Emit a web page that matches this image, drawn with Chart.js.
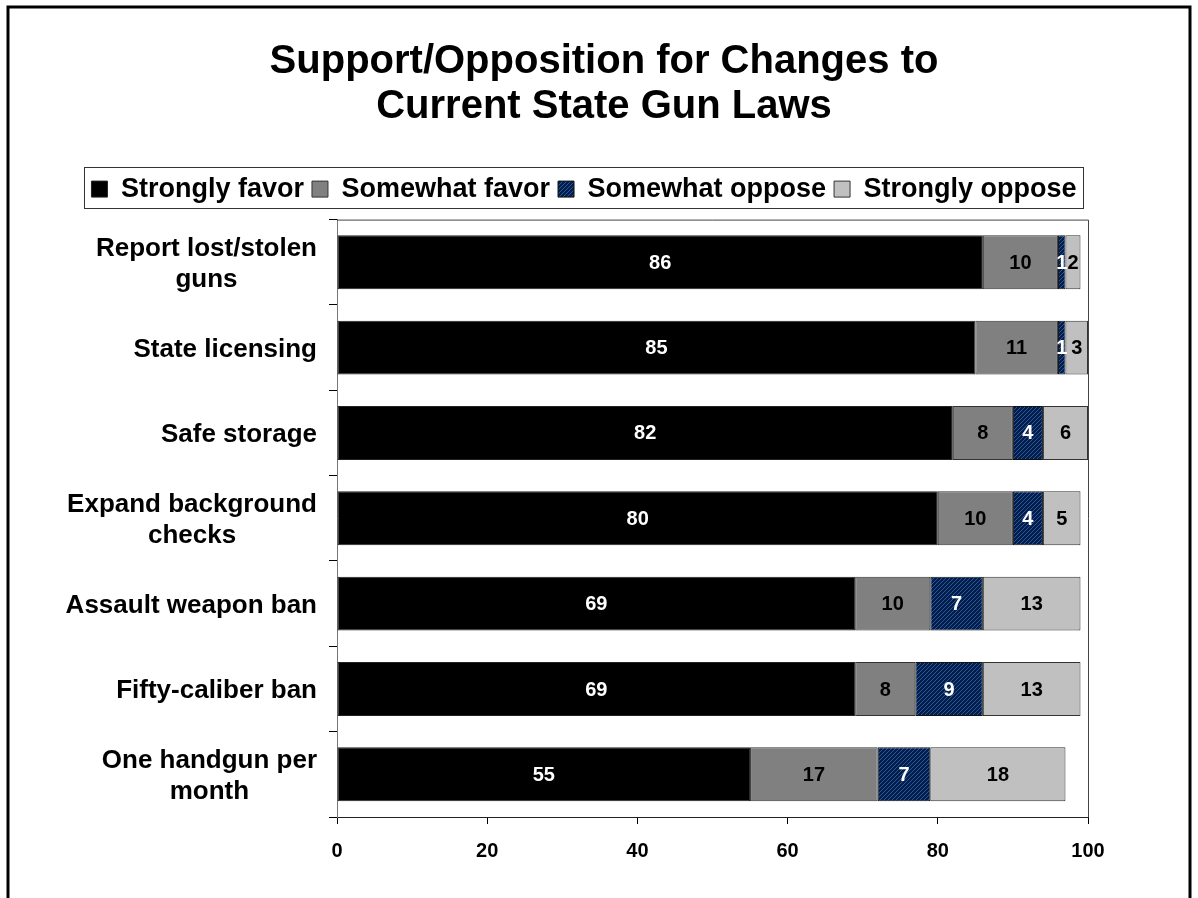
<!DOCTYPE html>
<html>
<head>
<meta charset="utf-8">
<script src="https://cdn.jsdelivr.net/npm/chart.js@4.4.0/dist/chart.umd.min.js"></script>
<style>
  html, body { margin: 0; padding: 0; background: #fff; }
  #wrap { width: 1198px; height: 898px; position: relative; }
</style>
</head>
<body>
<div id="wrap"><canvas id="chart"></canvas></div>
<script>
// data
const categories = [
  ['Report lost/stolen', 'guns'],
  'State licensing',
  'Safe storage',
  ['Expand background', 'checks'],
  'Assault weapon ban',
  'Fifty-caliber ban',
  ['One handgun per', 'month']
];
const stronglyFavor  = [86, 85, 82, 80, 69, 69, 55];
const somewhatFavor  = [10, 11, 8, 10, 10, 8, 17];
const somewhatOppose = [1, 1, 4, 4, 7, 9, 7];
const stronglyOppose = [2, 3, 6, 5, 13, 13, 18];
const xTicks = [0, 20, 40, 60, 80, 100];

const FONT = "'Liberation Sans', Arial, Helvetica, sans-serif";
Chart.defaults.font.family = FONT;
Chart.defaults.color = '#000';

// navy with fine diagonal hatch
function hatch() {
  const c = document.createElement('canvas');
  c.width = 4; c.height = 4;
  const g = c.getContext('2d');
  g.fillStyle = '#001f4e';
  g.fillRect(0, 0, 4, 4);
  g.strokeStyle = '#2f5490';
  g.lineWidth = 1;
  g.beginPath();
  g.moveTo(0, 4); g.lineTo(4, 0);
  g.moveTo(-1, 1); g.lineTo(1, -1);
  g.moveTo(3, 5); g.lineTo(5, 3);
  g.stroke();
  return g.createPattern(c, 'repeat');
}

const labelColors = ['#fff', '#000', '#fff', '#000'];

const decor = {
  id: 'decor',
  afterLayout(chart) {
    // legend sits a little left of the page centre
    chart.legend.left -= 20;
    chart.legend.right -= 20;
  },
  beforeDraw(chart) {
    const ctx = chart.ctx;
    ctx.save();
    ctx.strokeStyle = '#000';
    ctx.lineWidth = 3;
    ctx.beginPath();
    ctx.moveTo(8, chart.height);
    ctx.lineTo(8, 7);
    ctx.lineTo(1190, 7);
    ctx.lineTo(1190, chart.height);
    ctx.stroke();
    ctx.restore();
  },
  afterDatasetsDraw(chart) {
    const ctx = chart.ctx;
    ctx.save();
    ctx.font = 'bold 20px ' + FONT;
    ctx.textAlign = 'center';
    ctx.textBaseline = 'middle';
    chart.data.datasets.forEach((ds, i) => {
      chart.getDatasetMeta(i).data.forEach((bar, j) => {
        ctx.fillStyle = labelColors[i];
        ctx.fillText(String(ds.data[j]), (bar.x + bar.base) / 2, bar.y + 1);
      });
    });
    ctx.restore();
  },
  afterDraw(chart) {
    const ctx = chart.ctx;
    const a = chart.chartArea;
    ctx.save();
    // plot area frame (top and right)
    ctx.strokeStyle = '#444';
    ctx.lineWidth = 1;
    ctx.beginPath();
    ctx.moveTo(a.left, a.top + 0.5);
    ctx.lineTo(a.right + 0.5, a.top + 0.5);
    ctx.lineTo(a.right + 0.5, a.bottom);
    ctx.stroke();

    // legend frame
    const hb = chart.legend.legendHitBoxes;
    if (hb && hb.length) {
      const l = Math.min(...hb.map(h => h.left)) - 7;
      const r = Math.max(...hb.map(h => h.left + h.width)) + 7;
      const t = hb[0].top - 9;
      const b = hb[0].top + hb[0].height + 5;
      ctx.strokeStyle = '#333';
      ctx.strokeRect(Math.round(l) + 0.5, Math.round(t) + 0.5, Math.round(r - l), Math.round(b - t));
    }

    // category labels: block right aligned, lines centred
    const ys = chart.scales.y;
    ctx.font = 'bold 26px ' + FONT;
    ctx.fillStyle = '#000';
    ctx.textAlign = 'center';
    ctx.textBaseline = 'middle';
    const lineH = 31;
    categories.forEach((lab, i) => {
      const lines = Array.isArray(lab) ? lab : [lab];
      const w = Math.max(...lines.map(s => ctx.measureText(s).width));
      const cx = 317 - w / 2;
      const cy = ys.getPixelForValue(i) + 2;
      lines.forEach((s, k) => {
        ctx.fillText(s, cx, cy + (k - (lines.length - 1) / 2) * lineH);
      });
    });
    ctx.restore();
  }
};

const ctx = document.getElementById('chart').getContext('2d');
new Chart(ctx, {
  type: 'bar',
  data: {
    labels: categories,
    datasets: [
      { label: 'Strongly favor', data: stronglyFavor, backgroundColor: '#000', borderColor: '#222' },
      { label: 'Somewhat favor', data: somewhatFavor, backgroundColor: '#808080', borderColor: '#333' },
      { label: 'Somewhat oppose', data: somewhatOppose, backgroundColor: hatch(), borderColor: '#111' },
      { label: 'Strongly oppose', data: stronglyOppose, backgroundColor: '#c0c0c0', borderColor: '#333' }
    ]
  },
  options: {
    indexAxis: 'y',
    responsive: true,
    maintainAspectRatio: false,
    animation: false,
    datasets: {
      bar: { borderWidth: 1, borderSkipped: false, barPercentage: 0.632, categoryPercentage: 1 }
    },
    layout: { padding: { left: 10, right: 0, top: 0, bottom: 0 } },
    plugins: {
      title: {
        display: true,
        text: ['Support/Opposition for Changes to', 'Current State Gun Laws'],
        color: '#000',
        font: { size: 40, weight: 'bold', lineHeight: 1.12 },
        padding: { top: 40, bottom: 38 }
      },
      legend: {
        position: 'top',
        labels: {
          boxWidth: 16,
          boxHeight: 16,
          padding: 8,
          color: '#000',
          font: { size: 27, weight: 'bold' }
        }
      },
      tooltip: { enabled: false }
    },
    scales: {
      x: {
        stacked: true,
        min: 0,
        max: 100,
        afterBuildTicks: s => { s.ticks = xTicks.map(v => ({ value: v })); },
        afterFit: s => { s.height = 81; },
        ticks: { font: { size: 20, weight: 'bold' }, color: '#000', padding: 15 },
        grid: { drawOnChartArea: false, tickLength: 7, color: '#000' },
        border: { color: '#222' }
      },
      xTop: {
        type: 'linear',
        position: 'top',
        display: true,
        afterFit: s => { s.height = 7; },
        ticks: { display: false },
        grid: { display: false },
        border: { display: false }
      },
      y: {
        stacked: true,
        afterFit: s => { s.width = 327; },
        ticks: { display: false },
        grid: { drawOnChartArea: false, tickLength: 8, color: '#000' },
        border: { color: '#777' }
      },
      yRight: {
        type: 'category',
        position: 'right',
        display: true,
        afterFit: s => { s.width = 110; },
        ticks: { display: false },
        grid: { display: false },
        border: { display: false }
      }
    }
  },
  plugins: [decor]
});
</script>
</body>
</html>
